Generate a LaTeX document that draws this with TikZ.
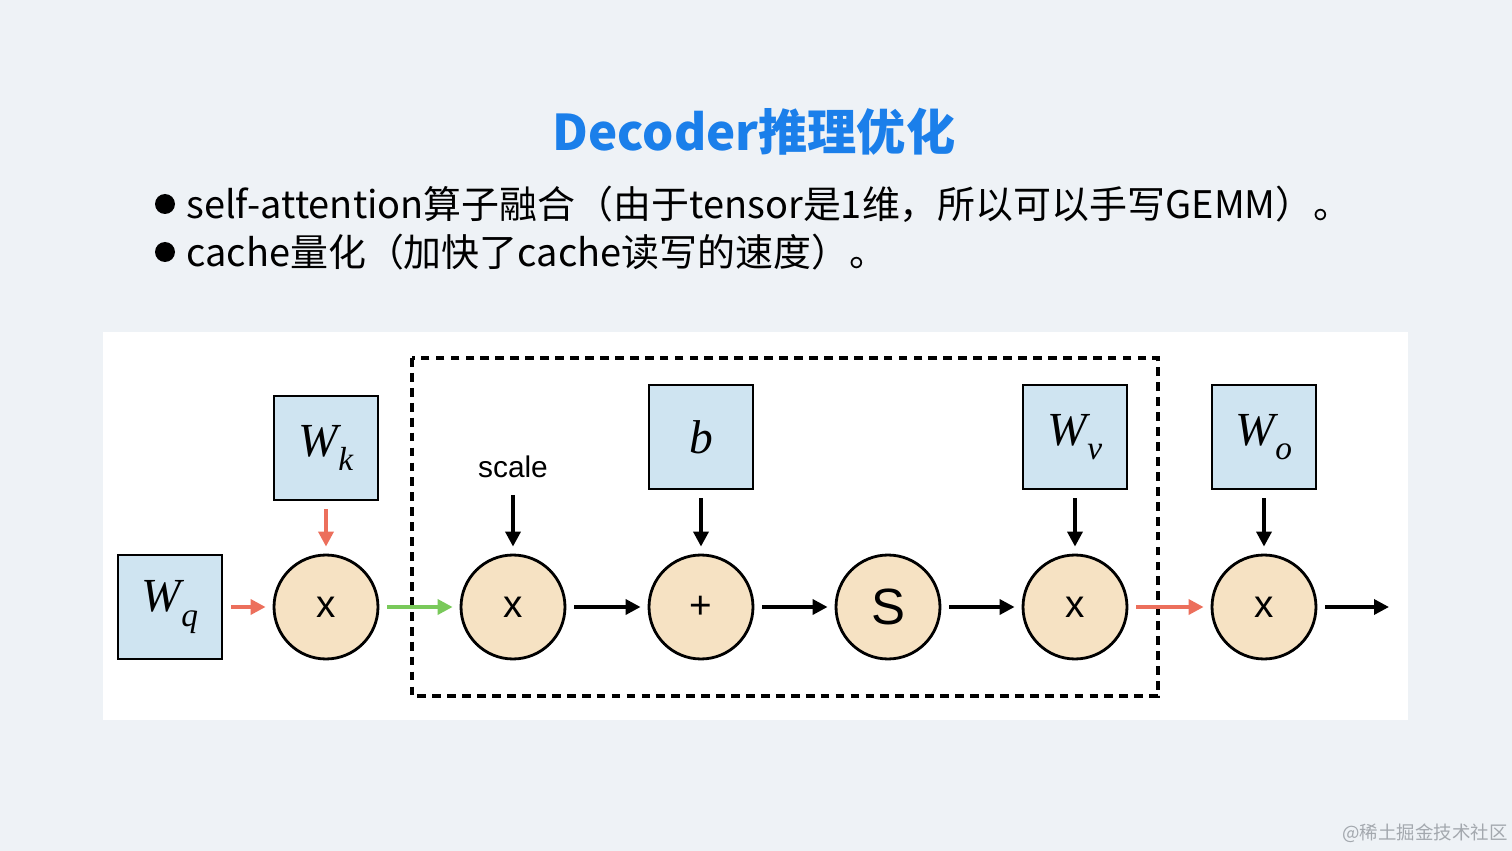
\documentclass[tikz,border=0pt]{standalone}
\usepackage{fontspec}
\setmainfont{Noto Sans CJK SC}
\newfontfamily\wfont{Liberation Serif}
\newfontfamily\opfont{Liberation Sans}
\usetikzlibrary{arrows.meta}

\definecolor{bgcol}{HTML}{EEF2F6}
\definecolor{titleblue}{HTML}{1B7FEA}
\definecolor{boxblue}{HTML}{CFE4F1}
\definecolor{opbeige}{HTML}{F6E2C3}
\definecolor{arrred}{HTML}{EC6F5C}
\definecolor{arrgreen}{HTML}{79C95A}
\definecolor{markgray}{HTML}{A3A8AE}

% weight matrix label W with an index
\newcommand{\wmat}[1]{{\wfont\itshape\fontsize{27}{27}\selectfont W\raisebox{-0.3em}{\fontsize{19}{19}\selectfont #1}}}

\begin{document}
\begin{tikzpicture}[x=0.02cm, y=-0.02cm,
    weight/.style={draw, line width=1.6pt, fill=boxblue, minimum size=2.08cm, inner sep=0pt},
    op/.style={circle, draw, line width=1.6pt, fill=opbeige, minimum size=2.08cm, inner sep=0pt,
      font=\opfont\fontsize{22}{22}\selectfont},
    flow/.style={-{Triangle[length=8.5pt,width=8.5pt]}, line width=2pt,
      shorten <=4.5pt, shorten >=4pt}]

    % Page and panel
    \fill[bgcol] (0,0) rectangle (1512,851);
    \useasboundingbox (0,0) rectangle (1512,851);
    \fill[white] (103,332) rectangle (1408,720);

    % Title and bullets
    \node[text=titleblue, font=\bfseries\fontsize{28}{28}\selectfont] (title) at (754,132) {Decoder推理优化};
    \fill (165,204) circle (10);
    \fill (165,252) circle (10);
    \node[anchor=west, inner sep=0pt, font=\fontsize{21.6}{21.6}\selectfont] (line1) at (186,204)
      {self-attention算子融合（由于tensor是1维，所以可以手写GEMM）。};
    \node[anchor=west, inner sep=0pt, font=\fontsize{21.6}{21.6}\selectfont] (line2) at (186,252)
      {cache量化（加快了cache读写的速度）。};

    % Fused region
    \draw[line width=2.2pt, dash pattern=on 5pt off 3.5pt] (412,358) rectangle (1158,696);

    % Weights
    \node[weight] (wq) at (170,607) {\wmat{q}};
    \node[weight] (wk) at (326,448) {\wmat{k}};
    \node[weight] (b)  at (701,437) {{\wfont\itshape\fontsize{27}{27}\selectfont b}};
    \node[weight] (wv) at (1075,437) {\wmat{v}};
    \node[weight] (wo) at (1264,437) {\wmat{o}};

    % Operators
    \node[op] (mulk) at (326,607) {x};
    \node[op] (muls) at (513,607) {x};
    \node[op] (add)  at (701,607) {+};
    \node[op, font=\opfont\fontsize{29}{29}\selectfont] (soft) at (888,607) {S};
    \node[op] (mulv) at (1075,607) {x};
    \node[op] (mulo) at (1264,607) {x};

    % Scale input and output
    \node[font=\opfont\fontsize{17}{17}\selectfont] (scale) at (513,467) {scale};
    \coordinate (scaletop) at (513,487);
    \coordinate (out) at (1396,607);

    % Arrows
    \draw[flow, arrred] (wq) -- (mulk);
    \draw[flow, arrred] (wk) -- (mulk);
    \draw[flow, arrgreen] (mulk) -- (muls);
    \draw[flow] (scaletop) -- (muls);
    \draw[flow] (muls) -- (add);
    \draw[flow] (b) -- (add);
    \draw[flow] (add) -- (soft);
    \draw[flow] (soft) -- (mulv);
    \draw[flow] (wv) -- (mulv);
    \draw[flow, arrred] (mulv) -- (mulo);
    \draw[flow] (wo) -- (mulo);
    \draw[flow] (mulo) -- (out);

    % Watermark
    \node[text=markgray, font=\fontsize{10.5}{10.5}\selectfont] (mark) at (1425,833) {@稀土掘金技术社区};

\end{tikzpicture}
\end{document}
